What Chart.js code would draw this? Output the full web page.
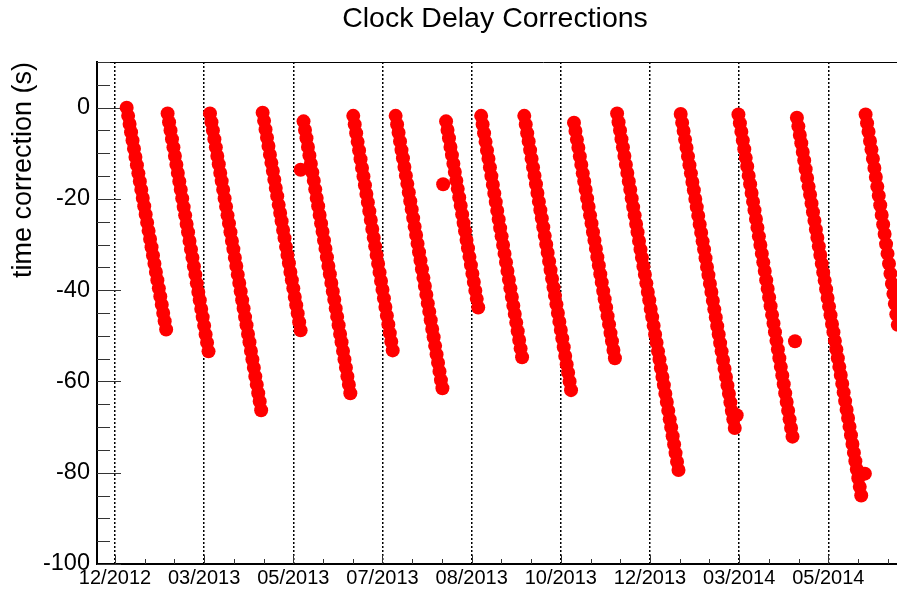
<!DOCTYPE html>
<html>
<head>
<meta charset="utf-8">
<script src="https://cdn.jsdelivr.net/npm/chart.js@4.4.0/dist/chart.umd.min.js"></script>
<style>
  html, body { margin: 0; padding: 0; overflow: hidden; background: #fff; }
  #wrap { position: relative; width: 990px; height: 590px; }
</style>
</head>
<body>
<div id="wrap"><canvas id="c"></canvas></div>
<script>
// ---------------- data ----------------
const chartTitle = 'Clock Delay Corrections';
const yAxisTitle = 'time correction (s)';

// x axis: days after the "12/2012" tick
const xTickDays = [0, 61, 122, 183, 244, 305, 366, 427, 488];
const xTickLabels = ['12/2012', '03/2013', '05/2013', '07/2013', '08/2013', '10/2013', '12/2013', '03/2014', '05/2014'];
const yTickValues = [0, -20, -40, -60, -80, -100];

// one reading per day inside each sawtooth segment; first day of each segment
const segmentStartDays = [8, 36, 65, 101, 129, 163, 192, 226.5, 250.5, 280, 314, 343.5, 387, 426.5, 466.5, 513.5];

const segment01 = [0, -1.8, -3.6, -5.4, -7.2, -9.0, -10.8, -12.6, -14.4, -16.2, -18.0, -19.8, -21.6, -23.4, -25.2, -27.0, -28.8, -30.6, -32.4, -34.2, -36.0, -37.8, -39.6, -41.4, -43.2, -45.0, -46.8, -48.6];
const segment02 = [-1.3, -3.2, -5.0, -6.9, -8.7, -10.6, -12.5, -14.3, -16.2, -18.0, -19.9, -21.8, -23.6, -25.5, -27.3, -29.2, -31.1, -32.9, -34.8, -36.6, -38.5, -40.4, -42.2, -44.1, -45.9, -47.8, -49.7, -51.5, -53.4];
const segment03 = [-1.3, -3.2, -5.0, -6.9, -8.7, -10.6, -12.4, -14.3, -16.1, -18.0, -19.9, -21.7, -23.6, -25.4, -27.3, -29.2, -31.0, -32.9, -34.7, -36.6, -38.4, -40.3, -42.2, -44.0, -45.9, -47.7, -49.6, -51.4, -53.3, -55.2, -57.0, -58.9, -60.7, -62.6, -64.4, -66.3];
const segment04 = [-1.1, -2.9, -4.8, -6.6, -8.4, -10.3, -12.1, -13.9, -15.8, -17.6, -19.4, -21.3, -23.1, -24.9, -26.8, -28.6, -30.5, -32.3, -34.1, -36.0, -37.8, -39.6, -41.5, -43.3, -45.1, -47.0, -48.8];
const segment05 = [-3.0, -4.9, -6.7, -8.6, -10.5, -12.3, -14.2, -16.0, -17.9, -19.8, -21.6, -23.5, -25.4, -27.2, -29.1, -30.9, -32.8, -34.7, -36.5, -38.4, -40.3, -42.1, -44.0, -45.8, -47.7, -49.6, -51.4, -53.3, -55.2, -57.0, -58.9, -60.7, -62.6];
const segment06 = [-1.8, -3.7, -5.6, -7.5, -9.4, -11.3, -13.2, -15.1, -17.0, -18.9, -20.8, -22.7, -24.6, -26.6, -28.5, -30.4, -32.3, -34.2, -36.1, -38.0, -39.9, -41.8, -43.7, -45.6, -47.5, -49.4, -51.3, -53.2];
const segment07 = [-1.8, -3.7, -5.5, -7.4, -9.3, -11.1, -13.0, -14.9, -16.7, -18.6, -20.5, -22.3, -24.2, -26.1, -27.9, -29.8, -31.7, -33.5, -35.4, -37.3, -39.1, -41.0, -42.9, -44.7, -46.6, -48.5, -50.3, -52.2, -54.1, -55.9, -57.8, -59.7, -61.5];
const segment08 = [-3.0, -4.9, -6.7, -8.6, -10.4, -12.3, -14.1, -16.0, -17.8, -19.7, -21.5, -23.4, -25.3, -27.1, -29.0, -30.8, -32.7, -34.5, -36.4, -38.2, -40.1, -41.9, -43.8];
const segment09 = [-1.8, -3.7, -5.6, -7.5, -9.4, -11.2, -13.1, -15.0, -16.9, -18.8, -20.7, -22.6, -24.5, -26.4, -28.2, -30.1, -32.0, -33.9, -35.8, -37.7, -39.6, -41.5, -43.4, -45.2, -47.1, -49.0, -50.9, -52.8, -54.7];
const segment10 = [-1.8, -3.7, -5.6, -7.4, -9.3, -11.2, -13.1, -14.9, -16.8, -18.7, -20.6, -22.5, -24.3, -26.2, -28.1, -30.0, -31.8, -33.7, -35.6, -37.5, -39.4, -41.2, -43.1, -45.0, -46.9, -48.7, -50.6, -52.5, -54.4, -56.3, -58.1, -60.0, -61.9];
const segment11 = [-3.3, -5.1, -7.0, -8.8, -10.7, -12.5, -14.4, -16.2, -18.0, -19.9, -21.7, -23.6, -25.4, -27.3, -29.1, -30.9, -32.8, -34.6, -36.5, -38.3, -40.2, -42.0, -43.8, -45.7, -47.5, -49.4, -51.2, -53.1, -54.9];
const segment12 = [-1.3, -3.2, -5.0, -6.9, -8.7, -10.6, -12.5, -14.3, -16.2, -18.0, -19.9, -21.8, -23.6, -25.5, -27.3, -29.2, -31.1, -32.9, -34.8, -36.6, -38.5, -40.4, -42.2, -44.1, -45.9, -47.8, -49.7, -51.5, -53.4, -55.2, -57.1, -59.0, -60.8, -62.7, -64.5, -66.4, -68.3, -70.1, -72.0, -73.8, -75.7, -77.6, -79.4];
const segment13 = [-1.4, -3.3, -5.1, -7.0, -8.8, -10.7, -12.6, -14.4, -16.3, -18.1, -20.0, -21.8, -23.7, -25.6, -27.4, -29.3, -31.1, -33.0, -34.9, -36.7, -38.6, -40.4, -42.3, -44.2, -46.0, -47.9, -49.7, -51.6, -53.4, -55.3, -57.2, -59.0, -60.9, -62.7, -64.6, -66.5, -68.3, -70.2];
const segment14 = [-1.5, -3.4, -5.3, -7.2, -9.1, -11.0, -12.9, -14.9, -16.8, -18.7, -20.6, -22.5, -24.4, -26.3, -28.2, -30.1, -32.0, -33.9, -35.8, -37.8, -39.7, -41.6, -43.5, -45.4, -47.3, -49.2, -51.1, -53.0, -54.9, -56.8, -58.7, -60.6, -62.6, -64.5, -66.4, -68.3, -70.2, -72.1];
const segment15 = [-2.2, -4.1, -6.0, -7.8, -9.7, -11.6, -13.5, -15.4, -17.3, -19.1, -21.0, -22.9, -24.8, -26.7, -28.5, -30.4, -32.3, -34.2, -36.1, -37.9, -39.8, -41.7, -43.6, -45.5, -47.4, -49.2, -51.1, -53.0, -54.9, -56.8, -58.6, -60.5, -62.4, -64.3, -66.2, -68.0, -69.9, -71.8, -73.7, -75.6, -77.5, -79.3, -81.2, -83.1, -85.0];
const segment16 = [-1.5, -3.4, -5.3, -7.3, -9.2, -11.2, -13.2, -15.2, -17.3, -19.3, -21.4, -23.5, -25.6, -27.7, -29.9, -32.0, -34.2, -36.4, -38.6, -40.8, -43.0, -45.3, -47.6];

// isolated readings away from the sawtooth lines
const outlierDays = [127, 224.5, 425.3, 465.2, 513];
const outlierValues = [-13.6, -16.8, -67.4, -51.2, -80.2];

const segments = [segment01, segment02, segment03, segment04, segment05, segment06, segment07, segment08,
                  segment09, segment10, segment11, segment12, segment13, segment14, segment15, segment16];

// ---------------- build points ----------------
const points = [];
segments.forEach((seg, s) => {
  seg.forEach((v, i) => points.push({ x: segmentStartDays[s] + i, y: v }));
});
outlierDays.forEach((d, i) => points.push({ x: d, y: outlierValues[i] }));

// ---------------- chart ----------------
const FONT = '"Liberation Sans", Arial, Helvetica, sans-serif';
Chart.defaults.color = '#000';
Chart.defaults.font.family = FONT;

const rootFrame = {
  id: 'rootFrame',
  beforeDatasetsDraw(chart) {
    const { ctx, chartArea: a, scales: { x, y } } = chart;
    ctx.save();
    ctx.lineWidth = 1;
    ctx.strokeStyle = '#000';
    // top frame line
    ctx.beginPath();
    ctx.moveTo(a.left, a.top + 0.5);
    ctx.lineTo(a.right, a.top + 0.5);
    ctx.stroke();
    // y ticks (inside frame): major every 20, minor every 5
    ctx.strokeStyle = '#333';
    for (let v = -100; v <= 10; v += 5) {
      const py = Math.round(y.getPixelForValue(v)) + 0.5;
      const len = (v % 20 === 0) ? 24 : 13;
      ctx.beginPath();
      ctx.moveTo(a.left, py);
      ctx.lineTo(a.left + len, py);
      ctx.stroke();
    }
    // x ticks (inside frame): major at labels, minor at thirds
    for (let k = -1; k < xTickDays.length; k++) {
      const d0 = k < 0 ? xTickDays[0] - (xTickDays[1] - xTickDays[0]) : xTickDays[k];
      const step = (xTickDays[1] - xTickDays[0]) / 3;
      for (let j = 0; j < 3; j++) {
        const px = Math.round(x.getPixelForValue(d0 + j * step)) + 0.5;
        if (px <= a.left + 1 || px >= a.right) continue;
        const len = j === 0 ? 9 : 5;
        ctx.beginPath();
        ctx.moveTo(px, a.bottom);
        ctx.lineTo(px, a.bottom - len);
        ctx.stroke();
      }
    }
    ctx.restore();
  }
};

new Chart(document.getElementById('c'), {
  type: 'scatter',
  data: {
    datasets: [{
      label: 'clock delay',
      data: points,
      pointRadius: 7,
      pointHoverRadius: 7,
      pointBackgroundColor: '#ff0000',
      pointBorderColor: '#ff0000',
      pointBorderWidth: 0
    }]
  },
  options: {
    responsive: true,
    maintainAspectRatio: false,
    animation: false,
    layout: { padding: 0, autoPadding: false },
    plugins: {
      legend: { display: false },
      tooltip: { enabled: false },
      title: {
        display: true,
        text: chartTitle,
        color: '#000',
        font: { family: FONT, size: 28.5, weight: 'normal', lineHeight: 1.2 },
        padding: { top: 2, bottom: 25.8 }
      }
    },
    scales: {
      x: {
        type: 'linear',
        min: -12.3,
        max: 598.6,
        afterBuildTicks(scale) { scale.ticks = xTickDays.map(v => ({ value: v })); },
        afterFit(scale) { scale.height = 26; },
        ticks: {
          autoSkip: false,
          maxRotation: 0,
          padding: 2,
          font: { family: FONT, size: 20 },
          color: '#000',
          callback: (v, i) => xTickLabels[i]
        },
        grid: { display: true, drawTicks: false, color: '#000', lineWidth: 1.5 },
        border: { display: true, color: '#000', width: 2, dash: [2, 2] }
      },
      y: {
        type: 'linear',
        min: -100,
        max: 10,
        afterBuildTicks(scale) { scale.ticks = yTickValues.map(v => ({ value: v })); },
        afterFit(scale) { scale.width = 97; },
        ticks: {
          autoSkip: false,
          padding: 7,
          font: { family: FONT, size: 23.5 },
          color: '#000',
          callback: v => String(v)
        },
        grid: { display: false, drawTicks: false },
        border: { display: true, color: '#000', width: 2 },
        title: {
          display: true,
          text: yAxisTitle,
          align: 'end',
          color: '#000',
          font: { family: FONT, size: 27, lineHeight: 1.2 },
          padding: { top: 7, bottom: 0 }
        }
      }
    }
  },
  plugins: [rootFrame]
});
</script>
</body>
</html>
